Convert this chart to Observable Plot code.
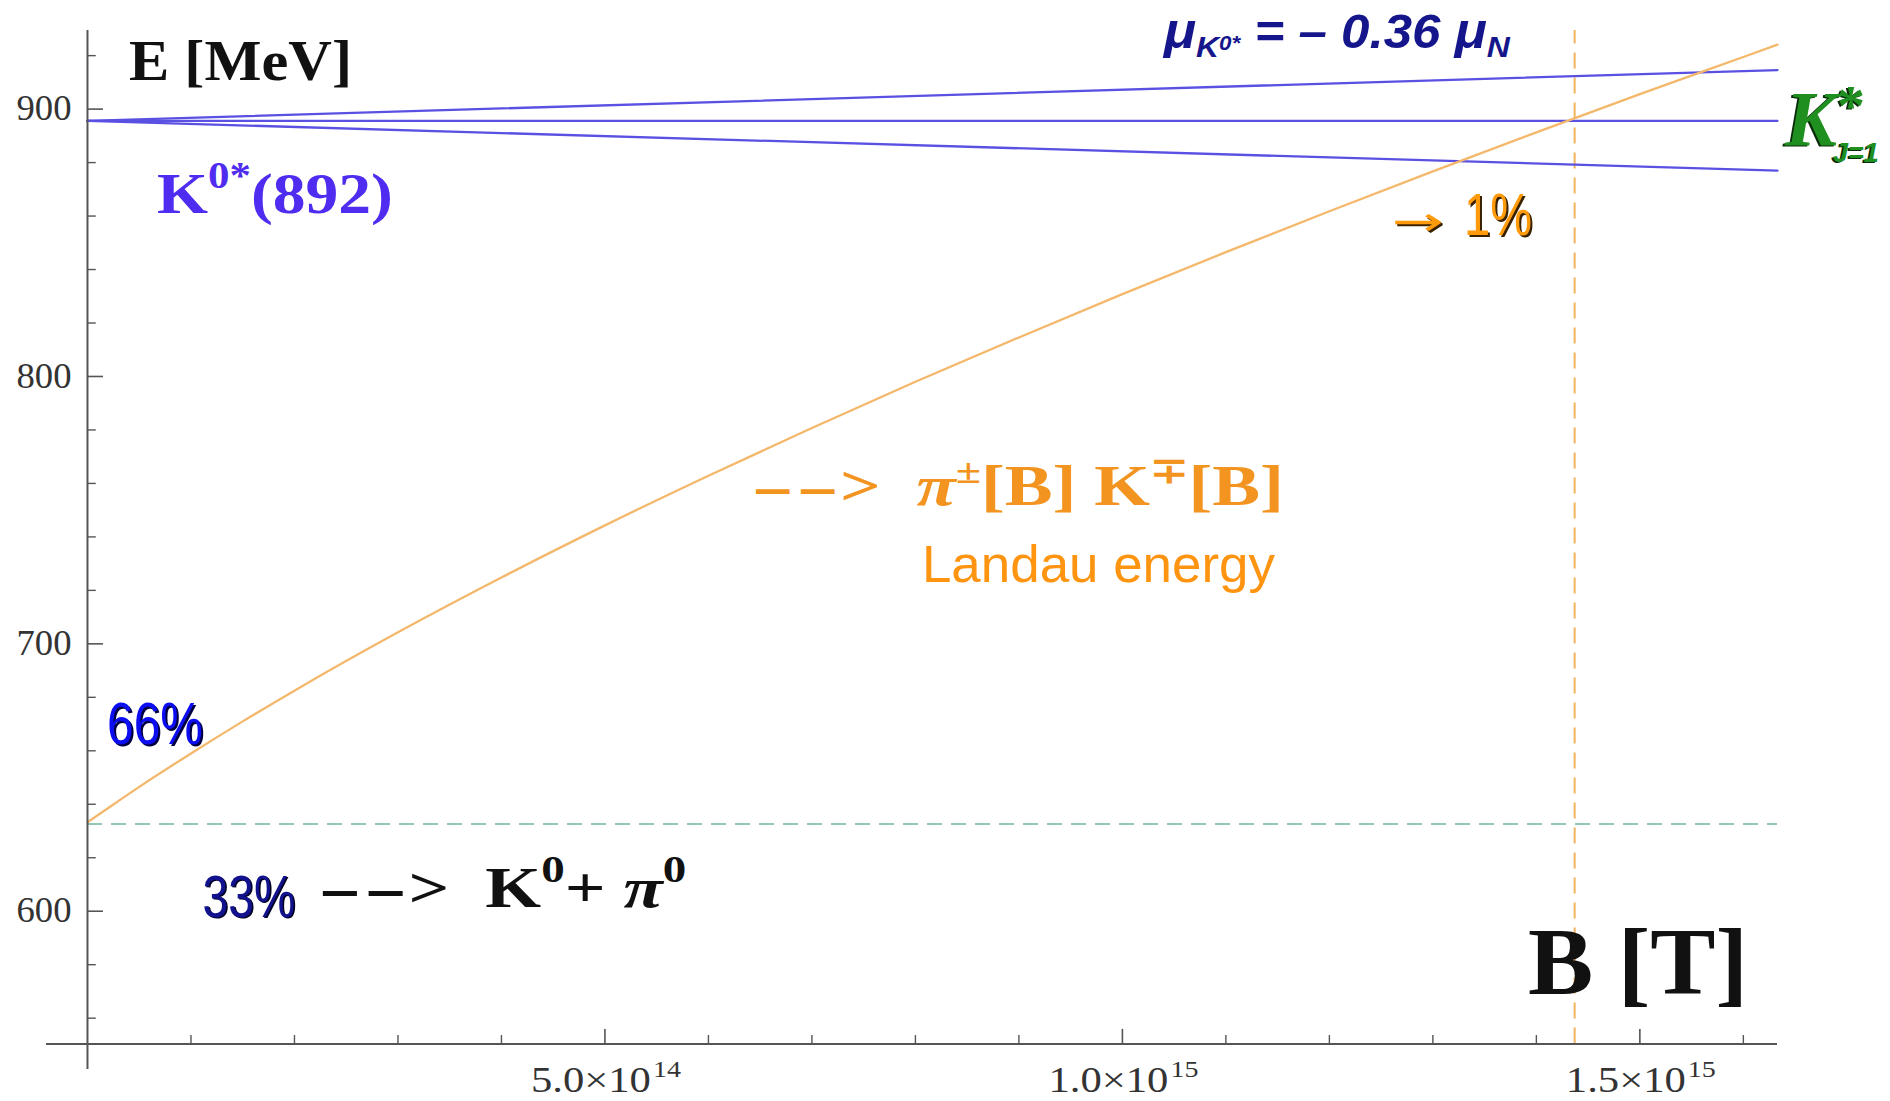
<!DOCTYPE html>
<html>
<head>
<meta charset="utf-8">
<script src="https://cdn.jsdelivr.net/npm/d3@7"></script>
<script src="https://cdn.jsdelivr.net/npm/@observablehq/plot@0.6"></script>
<style>
  html, body { margin: 0; padding: 0; background: #fff; overflow: hidden; }
  #chart svg { display: block; }
</style>
</head>
<body>
<div id="chart"></div>
<script>
// ---- data ----
// Landau energy of the pi(+-) K(-+) pair vs magnetic field B [T]
const bField = [0, 0.025e15, 0.05e15, 0.1e15, 0.15e15, 0.2e15, 0.3e15, 0.4e15, 0.5e15, 0.6e15, 0.7e15,
                0.8e15, 0.9e15, 1.0e15, 1.1e15, 1.2e15, 1.3e15, 1.4e15, 1.5e15, 1.6e15, 1.633e15];
const landauEnergy = [633.3, 639.9, 646.5, 659.0, 671.0, 682.5, 704.3, 724.8, 744.3, 762.9, 780.7,
                      798.0, 814.6, 830.8, 846.5, 861.8, 876.7, 891.3, 905.6, 919.5, 924.1];
// K*0(892) Zeeman levels (straight lines)
const kstarB = [0, 1.633e15];
const kstarUpper = [895.6, 914.6];
const kstarMiddle = [895.6, 895.6];
const kstarLower = [895.6, 877.0];
// K0 + pi0 threshold and level-crossing field
const thresholdK0Pi0 = [632.6];
const crossingB = [1.437e15];
// axes
const xAxisE = [550.3];
const xDomain = [-0.0396e15, 1.633e15];
const yDomain = [540.8, 929.4];
const xMajorTicks = [5e14, 1e15, 1.5e15];
const xMinorTicks = [1e14, 2e14, 3e14, 4e14, 6e14, 7e14, 8e14, 9e14, 1.1e15, 1.2e15, 1.3e15, 1.4e15, 1.6e15];
const xTickMantissa = ["5.0\u00d710", "1.0\u00d710", "1.5\u00d710"];
const xTickExponent = ["14", "15", "15"];
const yMajorTicks = [600, 700, 800, 900];
const yMinorTicks = [560, 580, 620, 640, 660, 680, 720, 740, 760, 780, 820, 840, 860, 880, 920];
const yTickLabels = ["600", "700", "800", "900"];

// ---- tables for the library ----
const landauTable = bField.map((b, i) => ({B: b, E: landauEnergy[i]}));
const kstarTable = [
  ...kstarB.map((b, i) => ({B: b, E: kstarUpper[i], level: "+1"})),
  ...kstarB.map((b, i) => ({B: b, E: kstarMiddle[i], level: "0"})),
  ...kstarB.map((b, i) => ({B: b, E: kstarLower[i], level: "-1"}))
];

const axisColor = "#555";
const serif = "'Liberation Serif', 'Times New Roman', serif";
const sans = "'Liberation Sans', Arial, sans-serif";
const dejavu = "'DejaVu Sans', sans-serif";

const plot = Plot.plot({
  width: 1890,
  height: 1101,
  marginLeft: 46,
  marginRight: 113,
  marginTop: 30,
  marginBottom: 32,
  x: {domain: xDomain, axis: null},
  y: {domain: yDomain, axis: null},
  style: {background: "#fff"},
  marks: [
    // threshold K0 + pi0
    Plot.ruleY(thresholdK0Pi0, {x1: 0, x2: xDomain[1], stroke: "#93c6b4", strokeWidth: 2, strokeDasharray: "15,9"}),
    // crossing field
    Plot.ruleX(crossingB, {y1: xAxisE[0], y2: yDomain[1], stroke: "#f2b45e", strokeWidth: 2, strokeDasharray: "16,9"}),
    // K*0 levels
    Plot.line(kstarTable, {x: "B", y: "E", z: "level", stroke: "#5a50e2", strokeWidth: 2.3}),
    // Landau energy curve
    Plot.line(landauTable, {x: "B", y: "E", stroke: "#f4b86c", strokeWidth: 2.3, curve: "monotone-x"}),
    // axes
    Plot.ruleY(xAxisE, {x1: xDomain[0], x2: xDomain[1], stroke: axisColor, strokeWidth: 2}),
    Plot.ruleX([0], {y1: yDomain[0], y2: yDomain[1], stroke: axisColor, strokeWidth: 2}),
    // x ticks (pointing up)
    Plot.ruleX(xMajorTicks, {y1: xAxisE[0], y2: xAxisE[0] + 5.5, stroke: axisColor, strokeWidth: 1.6}),
    Plot.ruleX(xMinorTicks, {y1: xAxisE[0], y2: xAxisE[0] + 3.2, stroke: axisColor, strokeWidth: 1.4}),
    // y ticks (pointing right)
    Plot.ruleY(yMajorTicks, {x1: 0, x2: 0.0155e15, stroke: axisColor, strokeWidth: 1.6}),
    Plot.ruleY(yMinorTicks, {x1: 0, x2: 0.0085e15, stroke: axisColor, strokeWidth: 1.4}),
    // y tick labels
    Plot.text(yMajorTicks, {x: 0, y: d => d, text: (d, i) => yTickLabels[i], dx: -16, textAnchor: "end",
      fontSize: 35, fontFamily: serif, fill: "#333"}),
    // x tick labels: mantissa + exponent
    Plot.text(xMajorTicks, {x: d => d, y: xAxisE[0], text: (d, i) => xTickMantissa[i], dx: 46, dy: 36, textAnchor: "end",
      fontSize: 36, fontFamily: serif, fill: "#333"}),
    Plot.text(xMajorTicks, {x: d => d, y: xAxisE[0], text: (d, i) => xTickExponent[i], dx: 48, dy: 25, textAnchor: "start",
      fontSize: 24, fontFamily: serif, fill: "#333"})
  ]
});

document.getElementById("chart").appendChild(plot);

const svg = d3.select(plot);
// stretch / condense tick labels like the reference
const textGroups = svg.selectAll('g[aria-label="text"]').nodes();
const tickLens = [55, 120, 28];
textGroups.forEach((g, i) => {
  d3.select(g).selectAll("text").attr("textLength", tickLens[i]).attr("lengthAdjust", "spacingAndGlyphs");
});

// ---- annotations positioned through the plot's scales ----
const sx = plot.scale("x"), sy = plot.scale("y");
const layer = svg.append("g").attr("aria-label", "annotations").attr("text-anchor", "start");

function rich(b, e, parts, attrs = {}, offset = [0, 0]) {
  const t = layer.append("text")
    .attr("x", sx.apply(b) + offset[0])
    .attr("y", sy.apply(e) + offset[1]);
  for (const [k, v] of Object.entries(attrs)) t.attr(k, v);
  let cur = 0;
  for (const p of parts) {
    const off = (p.down || 0) - (p.up || 0);
    const s = t.append("tspan").text(p.t).attr("dy", off - cur);
    cur = off;
    if (p.size) s.attr("font-size", p.size);
    if (p.style) s.attr("font-style", p.style);
    if (p.weight) s.attr("font-weight", p.weight);
    if (p.family) s.attr("font-family", p.family);
    if (p.fill) s.attr("fill", p.fill);
    if (p.dx) s.attr("dx", p.dx);
  }
  return t;
}
function fit(len) { return {textLength: len, lengthAdjust: "spacingAndGlyphs"}; }

// E [MeV]
rich(0.0406e15, 910.7, [{t: "E [MeV]"}],
  {"font-family": serif, "font-weight": "bold", "font-size": 58, fill: "#111", ...fit(223)});

// K0*(892)
rich(0.0676e15, 860.9, [
  {t: "K", size: 58},
  {t: "0*", size: 38, up: 25},
  {t: "(892)", size: 58}
], {"font-family": serif, "font-weight": "bold", fill: "#4f2cf0", ...fit(236)});

// mu_K0* = - 0.36 mu_N
rich(1.0406e15, 922.6, [
  {t: "\u03bc", size: 50},
  {t: "K", size: 30, down: 9},
  {t: "0*", size: 21, down: 2},
  {t: " = \u2013 0.36 ", size: 48},
  {t: "\u03bc", size: 50},
  {t: "N", size: 30, down: 9}
], {"font-family": sans, "font-weight": "bold", "font-style": "italic", fill: "#16168c", ...fit(346)});

// K*_{J=1} (green with dark shadow), one text element
for (const [fill, off] of [["#0a2a0a", [-2, 1.5]], ["#1f8f1f", [0, 0]]]) {
  rich(1.6407e15, 886.4, [
    {t: "K", size: 78, style: "italic", family: serif},
    {t: "*", size: 56, up: 20, family: serif, style: "normal"},
    {t: "J=1", size: 27, down: 17, family: sans, style: "italic", dx: -32}
  ], {"font-weight": "bold", fill}, off);
}

// -> 1%  (orange with dark shadow)
for (const [fill, off] of [["#3a2200", [2, 2]], ["#ff9a0a", [0, 0]]]) {
  rich(1.2610e15, 852.7, [{t: "\u2192"}],
    {"font-family": dejavu, "font-size": 40, fill, dy: -8, ...fit(52)}, off);
  rich(1.2610e15, 852.7, [{t: "1%"}],
    {"font-family": sans, "font-size": 60, fill, dx: 72, ...fit(68)}, off);
}

// 66%
for (const [fill, off] of [["#000040", [2, 2]], ["#0d0df2", [0, 0]]]) {
  rich(0.0193e15, 662.3, [{t: "66%"}], {"font-family": sans, "font-size": 60, fill, ...fit(96)}, off);
}
// 33%
for (const [fill, off] of [["#000020", [1.5, 1.5]], ["#12128f", [0, 0]]]) {
  rich(0.1115e15, 597.7, [{t: "33%"}], {"font-family": sans, "font-size": 60, fill, ...fit(93)}, off);
}

// --> K0 + pi0
rich(0.2225e15, 601.4, [
  {t: "\u2212\u2212", size: 44, family: dejavu},
  {t: ">", size: 58},
  {t: "\u2002", size: 58},
  {t: "K", size: 58},
  {t: "0", size: 38, up: 25},
  {t: "+ ", size: 58},
  {t: "\u03c0", size: 58, style: "italic"},
  {t: "0", size: 38, up: 25}
], {"font-family": serif, "font-weight": "bold", fill: "#111", ...fit(369)});

// --> pi(+-)[B] K(-+)[B]
rich(0.6406e15, 751.8, [
  {t: "\u2212\u2212", size: 42, family: dejavu},
  {t: ">", size: 56},
  {t: "\u2002", size: 56},
  {t: "\u03c0", size: 56, style: "italic"},
  {t: "\u00b1", size: 36, up: 22},
  {t: "[B] K", size: 56},
  {t: "\u2213", size: 36, up: 22},
  {t: "[B]", size: 56}
], {"font-family": serif, "font-weight": "bold", fill: "#f39320", ...fit(534)});

// Landau energy
rich(0.8068e15, 723.0, [{t: "Landau energy"}],
  {"font-family": sans, "font-size": 52, fill: "#ff9410", ...fit(353)});

// B [T]
rich(1.3924e15, 568.9, [{t: "B [T]"}],
  {"font-family": serif, "font-weight": "bold", "font-size": 96, fill: "#111", ...fit(220)});
</script>
</body>
</html>
